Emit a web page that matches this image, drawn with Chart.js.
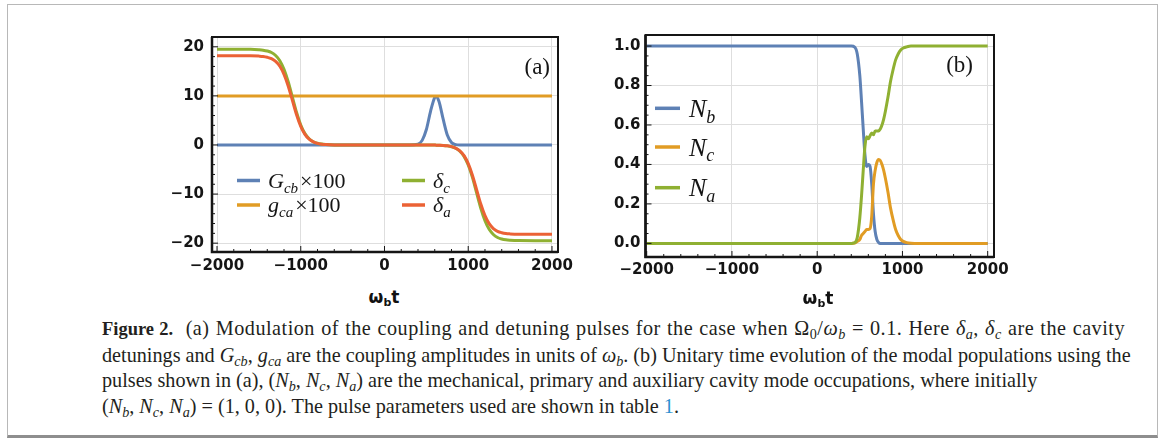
<!DOCTYPE html>
<html>
<head>
<meta charset="utf-8">
<script src="https://cdn.jsdelivr.net/npm/chart.js@4.4.1/dist/chart.umd.min.js"></script>
<style>
  body { margin: 0; background: #fff; }
  #fig { position: relative; width: 1165px; height: 443px; overflow: hidden; background: #fff; }
  .box { position: absolute; left: 7px; top: 4px; width: 1151px; height: 434px; box-sizing: border-box;
         border: 1px solid #b8b8b8; border-bottom: 3px solid #8e8e8e; }
  canvas { position: absolute; }
  .axt { position: absolute; font: bold 17px 'DejaVu Sans', sans-serif; color: #111; transform: translateX(-50%); white-space: nowrap; }
  .axt sub { font-size: 11px; line-height: 0; vertical-align: -3px; }
  .cap { position: absolute; left: 102px; top: 316px; font: 20.2px 'Liberation Serif', serif; line-height: 25.5px;
         color: #231f20; white-space: nowrap; }
  .cap div { text-align: justify; text-align-last: justify; }
  .cap div.last { text-align: left; text-align-last: left; }
  .cap b { font-size: 18.5px; letter-spacing: 0; }
  .cap sub { font-size: 0.7em; line-height: 0; vertical-align: -0.25em; }
  .cap .lnk { color: #2a8fd0; }
</style>
</head>
<body>
<div id="fig">
  <div class="box"></div>
  <canvas id="chartA" width="433" height="262" style="left:150px;top:20px"></canvas>
  <canvas id="chartB" width="439" height="267" style="left:580px;top:20px"></canvas>
  <div class="axt" style="left:384px;top:287px">ω<sub>b</sub>t</div>
  <div class="axt" style="left:818px;top:288px">ω<sub>b</sub>t</div>
  <div class="cap">
    <div style="width:1023px;letter-spacing:0.5px"><b>Figure 2.</b>&nbsp; (a) Modulation of the coupling and detuning pulses for the case when Ω<sub>0</sub>/<i>ω<sub>b</sub></i> = 0.1. Here <i>δ<sub>a</sub></i>, <i>δ<sub>c</sub></i> are the cavity</div>
    <div style="width:1028px">detunings and <i>G<sub>cb</sub></i>, <i>g<sub>ca</sub></i> are the coupling amplitudes in units of <i>ω<sub>b</sub></i>. (b) Unitary time evolution of the modal populations using the</div>
    <div style="width:783px">pulses shown in (a), (<i>N<sub>b</sub></i>, <i>N<sub>c</sub></i>, <i>N<sub>a</sub></i>) are the mechanical, primary and auxiliary cavity mode occupations, where initially</div>
    <div class="last">(<i>N<sub>b</sub></i>, <i>N<sub>c</sub></i>, <i>N<sub>a</sub></i>) = (1, 0, 0). The pulse parameters used are shown in table <span class="lnk">1</span>.</div>
  </div>
</div>
<script>
// panel (a): pulses
const timeA = [-2000, -1800, -1600, -1500, -1450, -1400, -1350, -1300, -1250, -1200, -1150, -1100, -1050,
  -1000, -950, -900, -850, -800, -750, -700, -600, -400, 0, 300, 400, 450, 500, 550, 600, 615, 650, 700,
  750, 800, 850, 900, 950, 1000, 1050, 1100, 1150, 1200, 1250, 1300, 1350, 1400, 1450, 1500, 1600, 1800, 2000];
const gcbA = [0, 0, 0, 0, 0, 0, 0, 0, 0, 0, 0, 0, 0, 0, 0, 0, 0, 0, 0, 0, 0, 0, 0, 0,
  0.18, 0.94, 3.15, 6.87, 9.71, 9.9, 8.9, 5.3, 2.04, 0.51, 0.08,
  0, 0, 0, 0, 0, 0, 0, 0, 0, 0, 0, 0, 0, 0, 0, 0];
const gcaA = timeA.map(() => 10);
const deltaC = [19.5, 19.5, 19.48, 19.4, 19.32, 19.15, 18.84, 18.23, 17.18, 15.42, 12.89, 9.75, 6.61, 4.08,
  2.32, 1.27, 0.66, 0.35, 0.18, 0.09, 0.02,
  0, 0, 0, 0, 0, 0, -0.01, -0.02, -0.03, -0.05, -0.09, -0.18, -0.35, -0.66, -1.27, -2.32, -4.08, -6.61,
  -9.75, -12.89, -15.42, -17.18, -18.23, -18.84, -19.15, -19.32, -19.4, -19.48, -19.5, -19.5];
const deltaA = [18.2, 18.2, 18.18, 18.11, 18.04, 17.87, 17.58, 17.02, 16.03, 14.4, 12.03, 9.1, 6.17, 3.8,
  2.17, 1.18, 0.62, 0.33, 0.17, 0.09, 0.02,
  0, 0, 0, 0, 0, 0, -0.01, -0.02, -0.03, -0.05, -0.09, -0.17, -0.33, -0.62, -1.18, -2.17, -3.8, -6.17,
  -9.1, -12.03, -14.4, -16.03, -17.02, -17.58, -17.87, -18.04, -18.11, -18.18, -18.2, -18.2];

// panel (b): populations
const timeB = [-2000, 0, 400, 440, 470, 500, 520, 540, 560, 580, 600, 620, 640, 660, 680, 700, 720, 740,
  760, 780, 800, 830, 860, 890, 920, 950, 980, 1010, 1050, 1100, 1200, 1500, 2000];
const nB = [1, 1, 1, 0.995, 0.96, 0.85, 0.72, 0.58, 0.45, 0.39, 0.4, 0.39, 0.3, 0.15, 0.06, 0.02, 0.005,
  0, 0, 0, 0, 0, 0, 0, 0, 0, 0, 0, 0, 0, 0, 0, 0];
const nC = [0, 0, 0, 0.002, 0.01, 0.02, 0.04, 0.05, 0.06, 0.07, 0.07, 0.075, 0.14, 0.3, 0.37, 0.41, 0.425,
  0.42, 0.4, 0.37, 0.33, 0.26, 0.18, 0.12, 0.07, 0.04, 0.02, 0.01, 0.004, 0.001, 0, 0, 0];
const nA = [0, 0, 0, 0.003, 0.03, 0.13, 0.24, 0.37, 0.49, 0.54, 0.53, 0.545, 0.56, 0.55, 0.57, 0.57, 0.57,
  0.58, 0.6, 0.63, 0.67, 0.74, 0.82, 0.88, 0.93, 0.96, 0.98, 0.99, 0.996, 1, 1, 1, 1];

const xTicks = [-2000, -1000, 0, 1000, 2000];
const yTicksA = [-20, -10, 0, 10, 20];
const yTicksB = [0, 0.2, 0.4, 0.6, 0.8, 1.0];

const blue = '#5e81b5', orange = '#e19c24', green = '#8fb032', red = '#eb6235';
const ink = '#151515';

function pts(t, v) {
    return t.map((x, i) => ({ x: x, y: v[i] }));
}
function minus(v) {
    return v < 0 ? '\u2212' + Math.abs(v) : String(v);
}

// Mathematica style frame with inward ticks
const framePlugin = {
    id: 'frame',
    afterDraw(chart, args, o) {
        const ctx = chart.ctx, a = chart.chartArea;
        const xs = chart.scales.x, ys = chart.scales.y;
        ctx.save();
        ctx.strokeStyle = ink;
        ctx.lineWidth = 1;
        ctx.beginPath();
        for (let v = o.xFrom; v <= o.xTo + 1e-9; v += o.xMinor) {
            const px = xs.getPixelForValue(v);
            const len = Math.abs(v % o.xMajor) < 1e-9 ? 6 : 3;
            ctx.moveTo(px, a.bottom); ctx.lineTo(px, a.bottom - len);
        }
        for (let v = o.yFrom; v <= o.yTo + 1e-9; v += o.yMinor) {
            const py = ys.getPixelForValue(v);
            const r = Math.abs(v / o.yMajor - Math.round(v / o.yMajor));
            const len = r < 1e-6 ? 6 : 3;
            ctx.moveTo(a.left, py); ctx.lineTo(a.left + len, py);
        }
        ctx.stroke();
        ctx.lineWidth = 2;
        ctx.strokeRect(a.left, a.top, a.right - a.left, a.bottom - a.top);
        ctx.lineWidth = 2.5;
        ctx.beginPath();
        ctx.moveTo(a.left, a.top); ctx.lineTo(a.left, a.bottom); ctx.lineTo(a.right, a.bottom);
        ctx.stroke();
        ctx.restore();
    }
};

// legend with sub-scripted math labels + panel tag
const texLegend = {
    id: 'texLegend',
    afterDraw(chart, args, o) {
        const ctx = chart.ctx, a = chart.chartArea;
        ctx.save();
        ctx.textAlign = 'left';
        ctx.textBaseline = 'alphabetic';
        o.items.forEach(it => {
            const x0 = a.left + it.x, y = a.top + it.y;
            ctx.strokeStyle = chart.data.datasets[it.ds].borderColor;
            ctx.lineWidth = 3.5;
            ctx.beginPath(); ctx.moveTo(x0, y); ctx.lineTo(x0 + o.lineLen, y); ctx.stroke();
            let x = x0 + o.lineLen + o.gap;
            const base = y + o.size * 0.33;
            ctx.fillStyle = ink;
            ctx.font = 'italic ' + o.size + 'px "Liberation Serif"';
            ctx.fillText(it.main, x, base);
            x += ctx.measureText(it.main).width;
            ctx.font = 'italic ' + Math.round(o.size * 0.7) + 'px "Liberation Serif"';
            ctx.fillText(it.sub, x, base + o.size * 0.22);
            x += ctx.measureText(it.sub).width;
            if (it.tail) {
                ctx.font = o.size + 'px "Liberation Serif"';
                ctx.fillText(it.tail, x + 2, base);
            }
        });
        ctx.font = o.tagSize + 'px "Liberation Serif"';
        ctx.textAlign = 'right';
        ctx.fillStyle = ink;
        ctx.fillText(o.tag, a.right - o.tagDx, a.top + o.tagDy);
        ctx.restore();
    }
};

function axisX(min, max, pad) {
    return {
        type: 'linear', min: min, max: max,
        afterBuildTicks: s => { s.ticks = xTicks.map(v => ({ value: v })); },
        afterFit: s => { s.height = 30; },
        grid: { color: '#dedede', lineWidth: 1, drawTicks: false },
        border: { display: false },
        ticks: { padding: pad, color: ink, maxRotation: 0, autoSkip: false,
                 font: { family: 'DejaVu Sans', size: 15, weight: 'bold' }, callback: v => minus(v) }
    };
}

new Chart(document.getElementById('chartA'), {
    type: 'line',
    data: {
        datasets: [
            { label: 'G_cb x100', data: pts(timeA, gcbA), borderColor: blue, order: 4 },
            { label: 'g_ca x100', data: pts(timeA, gcaA), borderColor: orange, order: 3 },
            { label: 'delta_c', data: pts(timeA, deltaC), borderColor: green, order: 2 },
            { label: 'delta_a', data: pts(timeA, deltaA), borderColor: red, order: 1 }
        ]
    },
    options: {
        responsive: false,
        animation: false,
        layout: { padding: { top: 15, right: 25, left: 0, bottom: 0 } },
        elements: {
            point: { radius: 0 },
            line: { borderWidth: 3, cubicInterpolationMode: 'monotone' }
        },
        plugins: {
            legend: { display: false },
            tooltip: { enabled: false },
            frame: { xFrom: -2000, xTo: 2000, xMinor: 200, xMajor: 1000, yFrom: -20, yTo: 20, yMinor: 2, yMajor: 10 },
            texLegend: {
                size: 22, lineLen: 23, gap: 8, tag: '(a)', tagSize: 23, tagDx: 8, tagDy: 37,
                items: [
                    { ds: 0, x: 25, y: 143.5, main: 'G', sub: 'cb', tail: '\u00d7100' },
                    { ds: 1, x: 25, y: 168, main: 'g', sub: 'ca', tail: '\u00d7100' },
                    { ds: 2, x: 190, y: 143.5, main: '\u03b4', sub: 'c' },
                    { ds: 3, x: 190, y: 168, main: '\u03b4', sub: 'a' }
                ]
            }
        },
        scales: {
            x: axisX(-2060, 2072, 5),
            y: {
                min: -21.8, max: 22,
                afterBuildTicks: s => { s.ticks = yTicksA.map(v => ({ value: v })); },
                afterFit: s => { s.width = 62; },
                grid: { color: '#dedede', lineWidth: 1, drawTicks: false },
                border: { display: false },
                ticks: { padding: 8, color: ink, font: { family: 'DejaVu Sans', size: 15, weight: 'bold' },
                         callback: v => minus(v) }
            }
        }
    },
    plugins: [framePlugin, texLegend]
});

new Chart(document.getElementById('chartB'), {
    type: 'line',
    data: {
        datasets: [
            { label: 'N_b', data: pts(timeB, nB), borderColor: blue, order: 3 },
            { label: 'N_c', data: pts(timeB, nC), borderColor: orange, order: 2 },
            { label: 'N_a', data: pts(timeB, nA), borderColor: green, order: 1 }
        ]
    },
    options: {
        responsive: false,
        animation: false,
        layout: { padding: { top: 15, right: 25, left: 0, bottom: 0 } },
        elements: {
            point: { radius: 0 },
            line: { borderWidth: 3, cubicInterpolationMode: 'monotone' }
        },
        plugins: {
            legend: { display: false },
            tooltip: { enabled: false },
            frame: { xFrom: -2000, xTo: 2000, xMinor: 200, xMajor: 1000, yFrom: 0, yTo: 1, yMinor: 0.05, yMajor: 0.2 },
            texLegend: {
                size: 26, lineLen: 25, gap: 9, tag: '(b)', tagSize: 23, tagDx: 21, tagDy: 37,
                items: [
                    { ds: 0, x: 9.5, y: 73.3 , main: 'N', sub: 'b' },
                    { ds: 1, x: 9.5, y: 112, main: 'N', sub: 'c' },
                    { ds: 2, x: 9.5, y: 152.7, main: 'N', sub: 'a' }
                ]
            }
        },
        scales: {
            x: axisX(-2014, 2074, 4),
            y: {
                min: -0.069, max: 1.056,
                afterBuildTicks: s => { s.ticks = yTicksB.map(v => ({ value: v })); },
                afterFit: s => { s.width = 65.5; },
                grid: { color: '#dedede', lineWidth: 1, drawTicks: false },
                border: { display: false },
                ticks: { padding: 5, color: ink, font: { family: 'DejaVu Sans', size: 15, weight: 'bold' },
                         callback: v => v.toFixed(1) }
            }
        }
    },
    plugins: [framePlugin, texLegend]
});
</script>
</body>
</html>
